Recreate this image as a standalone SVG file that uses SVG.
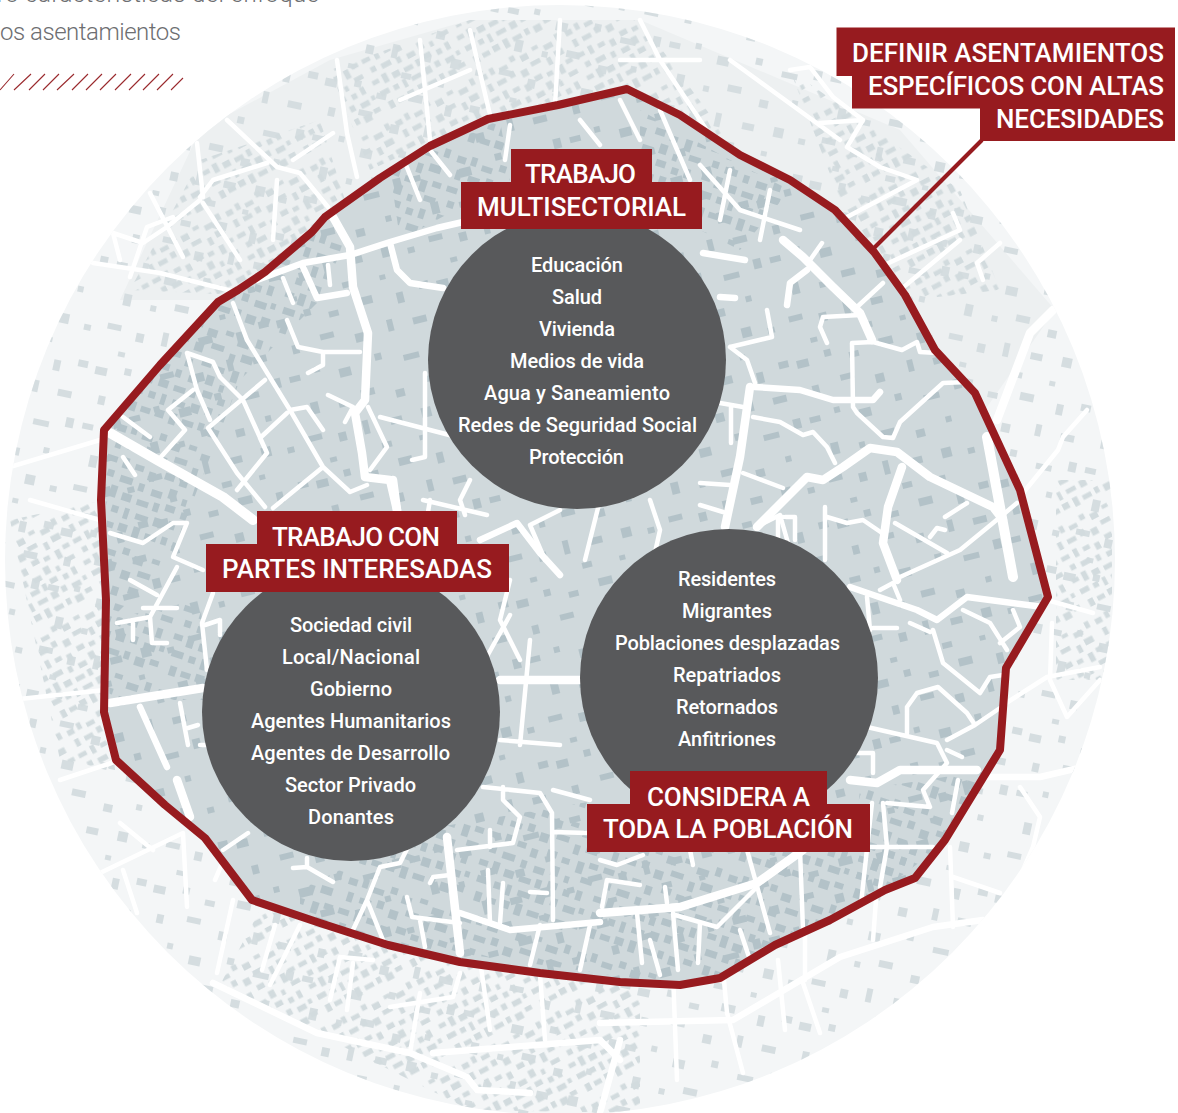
<svg xmlns="http://www.w3.org/2000/svg" width="1178" height="1113" viewBox="0 0 1178 1113">
<style>
text{font-family:Roboto,"Noto Sans",sans-serif;font-weight:500}
.t{font-size:26px;fill:#fff}
.c{font-size:20px;fill:#fff}
.box{fill:#971b1f}
.disc{fill:#58595b}
.r{fill:none;stroke:#fff;stroke-linejoin:round;stroke-linecap:round}
.w3{stroke-width:3.5}.w4{stroke-width:4.5}.w6{stroke-width:6.5}.w8{stroke-width:8.5}.w10{stroke-width:10}
.intro{font-size:24px;fill:#6d6e71;font-weight:300}
</style>
<defs>
<path id="b1" d="M4 6h9v7h-9zM18 3h6v9h-6zM30 8h11v6h-11zM47 2h7v7h-7zM60 7h10v8h-10zM78 4h8v5h-8zM92 9h12v7h-12zM110 3h6v9h-6zM7 20h6v10h-6zM20 22h12v6h-12zM38 19h7v8h-7zM52 24h9v9h-9zM68 20h13v6h-13zM88 25h6v10h-6zM100 22h12v8h-12zM3 38h11v6h-11zM20 36h6v11h-6zM33 39h9v6h-9zM48 42h7v9h-7zM64 38h10v7h-10zM80 41h8v6h-8zM96 40h7v12h-7zM108 38h9v6h-9zM8 52h7v7h-7zM22 54h13v7h-13zM42 56h6v8h-6zM56 58h11v7h-11zM73 52h8v10h-8zM88 58h5v7h-5zM104 54h12v6h-12zM2 68h9v6h-9zM16 66h7v12h-7zM29 70h10v8h-10zM45 72h12v6h-12zM62 70h6v9h-6zM74 68h10v7h-10zM91 71h7v7h-7zM104 68h6v10h-6zM5 84h12v7h-12zM23 85h7v7h-7zM36 84h5v11h-5zM48 86h13v6h-13zM67 84h9v9h-9zM82 83h7v8h-7zM96 86h12v7h-12zM112 84h5v6h-5zM8 100h7v10h-7zM20 102h10v6h-10zM35 100h9v8h-9zM50 99h7v12h-7zM63 102h12v6h-12zM80 100h6v8h-6zM92 102h10v9h-10zM107 100h9v6h-9z"/>
<path id="b2" d="M5 8h12v8h-12zM34 4h7v7h-7zM58 12h10v6h-10zM90 6h14v8h-14zM128 10h7v11h-7zM152 5h10v7h-10zM14 36h7v9h-7zM44 32h14v6h-14zM78 40h9v9h-9zM112 34h6v12h-6zM138 38h14v7h-14zM4 66h11v6h-11zM30 62h6v6h-6zM54 70h12v9h-12zM92 64h7v7h-7zM120 72h16v6h-16zM152 64h8v10h-8zM18 96h8v12h-8zM46 102h6v6h-6zM70 96h14v7h-14zM104 104h9v8h-9zM136 98h6v6h-6zM8 128h14v6h-14zM38 132h8v9h-8zM64 126h6v14h-6zM92 130h12v7h-12zM124 128h10v10h-10zM150 134h7v6h-7zM24 154h7v5h-7zM78 152h10v6h-10zM116 154h6v5h-6z"/>
<pattern id="inA" width="120" height="120" patternUnits="userSpaceOnUse" patternTransform="rotate(18)"><use href="#b1" fill="#b3c2c8"/></pattern>
<pattern id="inB" width="165" height="165" patternUnits="userSpaceOnUse" patternTransform="rotate(-14) translate(20 40)"><use href="#b2" fill="#b3c2c8"/></pattern>
<pattern id="outA" width="120" height="120" patternUnits="userSpaceOnUse" patternTransform="rotate(-28) scale(.8)"><use href="#b1" fill="#d2dbde"/></pattern>
<pattern id="outB" width="165" height="165" patternUnits="userSpaceOnUse" patternTransform="rotate(12)"><use href="#b2" fill="#d5dde0"/></pattern>
<clipPath id="discClip"><circle cx="560" cy="560" r="555"/></clipPath>
<clipPath id="inClip"><path d="M627 89L558 105 488 119 430 146 380 178 325 217 312 232 265 272 238 290 218 302 160 365 104 430 101 500 106 600 104 712 116 760 165 805 205 838 252 900 320 923 388 945 460 962 540 973 620 982 680 985 720 978 775 945 830 920 885 890 915 878 945 840 1000 750 1006 668 1048 597 1020 490 975 393 935 350 905 295 874 252 835 210 790 180 740 155 680 115Z"/></clipPath>
</defs>

<text class="intro" x="-3" y="2" textLength="322" lengthAdjust="spacing">ro características del enfoque</text>
<text class="intro" x="0" y="40" textLength="181" lengthAdjust="spacing">os asentamientos</text>
<path d="M0 90L14 74M14 90L31 74M29 90L45 74M43 90L59 74M57 90L74 74M72 90L88 74M86 90L102 74M100 90L116 74M115 90L131 74M129 90L145 74M143 90L159 74M157 90L173 74M171 90L183 78" fill="none" stroke="#9a2a2e" stroke-width="1.1"/>

<g id="map">
<g clip-path="url(#discClip)">
<rect width="1178" height="1113" fill="#f4f6f7"/>
<path d="M120 300L200 130 330 60 470 20 640 20 900 130 1055 310 880 560 300 300Z" fill="#edf0f1"/>
<rect width="1178" height="1113" fill="url(#outB)"/>
<path d="M130 290L200 160 320 120 345 200 240 295Z" fill="url(#outA)"/>
<path d="M330 70L470 20 640 20 740 155 490 115 370 170Z" fill="url(#outA)"/>
<path d="M790 70L960 190 1000 290 910 300 840 200Z" fill="url(#outA)"/>
<path d="M220 985L470 1110 640 1113 640 990 260 910Z" fill="url(#outA)"/>
<path d="M10 520L105 500 110 720 115 770 60 760Z" fill="url(#outA)"/>
<path d="M1056 480L1112 480 1112 680 1056 680Z" fill="url(#outA)"/>
<g class="outer">
<path class="r w8" d="M1053 310L1030 333 997 420"/>
<path class="r w4" d="M1087 410L1063 437 1058 450 1023 493"/>
<path class="r w6" d="M983 777L1040 777 1100 763"/>
<path class="r w4" d="M1020 787L1040 817 1033 847 1010 900"/>
<path class="r w4" d="M1000 707L1047 677 1100 667M1052 623L1050 680 1067 717 1100 680M1047 600L1093 613"/>
<path class="r w6" d="M600 1023L733 1020 840 957 933 927 983 920"/>
<path class="r w4" d="M673 973L677 1080M723 970L727 1013 743 1073M803 983L820 1033M805 930L805 980M877 887L873 940M950 847L953 927M953 877L1000 893M778 960L785 1030"/>
<path class="r w6" d="M433 1053L600 1040 620 1060M620 1040L600 1113"/>
<path class="r w6" d="M213 983L317 1033 410 1053 467 1077 477 1090 530 1093"/>
<path class="r w4" d="M233 900L217 973M340 957L330 1000M353 963L347 1010M340 957L373 960M420 993L410 1053M390 1007L453 997 460 973M480 960L490 1030M540 975L545 1040"/>
<path class="r w4" d="M100 873L183 833 187 907M120 823L153 850M123 870L137 913M215 880L230 845M275 925L262 970M300 925L270 985"/>
<path class="r w4" d="M197 143L203 197M227 120L277 167 300 173 328 207M267 163L213 180 200 197M150 193L183 257M203 203L240 260M277 180L273 240M337 60L347 133 357 177M293 160L333 133"/>
<path class="r w4" d="M93 263L160 273 240 293M130 277L147 227 173 217M113 233L120 260M113 233L143 243 167 227 200 200"/>
<path class="r w4" d="M470 30L490 115M560 20L555 105M640 20L660 60 720 150M420 40L430 140M400 100L470 70M620 60L700 60"/>
<path class="r w4" d="M790 70L810 67 833 97 863 120M820 123L863 120 847 147 880 167 917 180 847 217M953 213L960 230 880 267M1000 243L977 263 983 280M730 60L840 140M900 290L960 240"/>
<path class="r w4" d="M0 470L100 440M30 500L100 520M10 700L105 690M60 780L120 760"/>
</g>
</g>
<rect x="100" y="85" width="950" height="900" fill="#d0d9dc" clip-path="url(#inClip)"/>
<g clip-path="url(#inClip)">
<rect x="100" y="85" width="950" height="900" fill="url(#inB)"/>
<path d="M104 430L280 240 350 230 320 300 240 380 170 560 110 620Z" fill="url(#inA)"/>
<path d="M105 620L200 600 210 700 110 700Z" fill="url(#inA)"/>
<path d="M300 890L420 830 600 800 800 850 950 840 800 950 680 985 300 930Z" fill="url(#inA)"/>
<path d="M640 110L730 160 790 190 740 250 640 200Z" fill="url(#inA)"/>
<path d="M390 170L500 120 510 180 400 240Z" fill="url(#inA)"/>
<path d="M860 790L990 770 930 860 850 880Z" fill="url(#inA)"/>
<g id="roads">
<path class="r w6" d="M257 280L303 263 350 255 390 242 437 228 463 222"/>
<path class="r w8" d="M333 217L350 247 353 287 368 333 365 400 355 413 362 453 365 477 390 480 397 510"/>
<path class="r w10" d="M110 433L157 460 223 497 253 520"/>
<path class="r w4" d="M233 303L247 340 290 410 323 467 350 492 367 485M187 353L213 362 220 377 243 400 267 453 237 490M187 353L197 390 210 420M193 390L168 410 185 430 160 458M265 380L208 428 237 473 265 507M287 413L260 438 267 453M290 410L307 407 323 430M323 467L273 508M287 320L298 347 323 352 360 352M323 352L323 365 308 373M283 278L293 303"/>
<path class="r w6" d="M303 267L317 298 347 293M390 243L397 270 410 283 443 288"/>
<path class="r w4" d="M328 265L330 285M368 407L387 447 370 470M380 417L457 437M425 373L425 457 412 460M328 395L353 407 345 422M123 417L150 437M123 457L135 475"/>
<path class="r w4" d="M110 533L143 543 173 523 187 523 173 557 203 570M177 567L150 617 117 623M130 580L157 595M133 623L133 640M150 617L152 643 167 643M143 608L177 608"/>
<path class="r w8" d="M110 703L203 688"/>
<path class="r w6" d="M140 707L167 767"/>
<path class="r w4" d="M180 703L188 745M188 728L198 725M213 593L202 623 207 670M205 625L220 620 220 635"/>
<path class="r w4" d="M423 500L487 515M430 500L425 530M465 515L460 500 470 480"/>
<path class="r w8" d="M393 480L397 510 400 545 380 580"/>
<path class="r w6" d="M480 540L517 523 540 553 560 575"/>
<path class="r w4" d="M560 510L530 525 545 560M600 500L585 560M510 580L500 620 520 660M640 620L660 530 650 500"/>
<path class="r w8" d="M500 680L580 680"/>
<path class="r w4" d="M500 740L560 745M530 640L520 745M200 745L230 745M510 615L485 660M760 525L780 515 790 550"/>
<path class="r w8" d="M803 257L833 287 860 313 872 340M783 240L803 257"/>
<path class="r w4" d="M808 263L822 243M857 307L883 283"/>
<path class="r w6" d="M787 305L790 283 807 270"/>
<path class="r w4" d="M823 317L860 315M823 317L820 327 827 343M852 343L853 407 857 413 883 437 893 438 900 422 943 383 967 382M852 343L873 342 902 350 917 342 920 352 937 353M767 310L772 337 730 347M730 347L747 360 755 383"/>
<path class="r w6" d="M755 387L800 390 833 400 873 400 880 392M703 253L745 260M720 297L735 298"/>
<path class="r w8" d="M750 387L740 457 725 527"/>
<path class="r w4" d="M720 403L743 407M731 405L731 443M753 417L780 422 803 435 813 432 827 447 835 463"/>
<path class="r w8" d="M757 527L807 477 823 480 843 467 870 448 897 452 930 477 993 507 1003 520"/>
<path class="r w8" d="M902 467L888 507 883 543 897 580"/>
<path class="r w4" d="M825 507L825 560M827 517L847 523 863 520 882 533M895 523L947 553M945 517L967 503M930 537L937 528 945 530M900 577L960 550 993 523 1017 503M743 473L783 488M700 483L730 485M700 505L723 512"/>
<path class="r w10" d="M987 437L1000 507 1013 577"/>
<path class="r w4" d="M778 517L795 517 795 540M778 517L778 540"/>
<path class="r w6" d="M850 587L917 610 937 620 967 597 1043 607"/>
<path class="r w4" d="M867 597L870 630M933 630L943 663 980 693 990 677 1003 675M910 623L930 632M873 628L897 628M963 610L990 623 1007 650M1013 610L1020 627 1000 643M880 590L893 583 900 600"/>
<path class="r w4" d="M867 727L937 743 947 763 923 790 930 807 887 803M907 733L907 707 917 693 938 687 967 713 975 725M947 740L975 725 1000 708M947 750L962 757"/>
<path class="r w8" d="M850 780L877 783 900 770 977 770"/>
<path class="r w4" d="M857 753L873 753 873 773M958 780L952 813M872 803L860 913M883 803L887 847 880 887M870 847L933 847M800 850L803 930M747 850L770 933"/>
<path class="r w8" d="M803 850L757 883 680 907 600 913"/>
<path class="r w4" d="M757 887L717 927 675 915M673 913L678 970M637 913L642 963M700 923L698 963M665 887L667 903M607 880L640 885M607 880L602 907M690 850L693 865M600 860L617 865 643 855"/>
<path class="r w8" d="M447 837L460 953"/>
<path class="r w4" d="M457 850L513 843 520 817 503 800 503 787M490 830L490 847M483 787L540 793 552 813 553 920M553 790L590 800M553 832L587 833M488 870L490 923M503 883L500 923M430 883L433 877 450 875M530 892L547 893M407 897L412 917 460 923M420 920L425 947M353 930L367 900 383 940M367 900L380 867 400 863 413 837M293 868L307 867 333 882M307 858L307 867M223 850L248 833"/>
<path class="r w6" d="M460 913L510 930 600 922"/>
<path class="r w8" d="M177 780L190 817"/>
<path class="r w4" d="M650 940L660 975M540 925L530 965M590 925L580 970M740 930L750 960"/>
<path class="r w4" d="M400 150L420 200M510 125L505 160M430 150L450 175M620 100L640 140M660 110L690 180M700 165L740 210 800 230M730 170L720 220M770 190L760 240M580 120L600 145"/>
</g>
</g>
<path fill="none" stroke="#971b1f" stroke-width="8" stroke-linejoin="round" d="M627 89L558 105 488 119 430 146 380 178 325 217 312 232 265 272 238 290 218 302 160 365 104 430 101 500 106 600 104 712 116 760 165 805 205 838 252 900 320 923 388 945 460 962 540 973 620 982 680 985 720 978 775 945 830 920 885 890 915 878 945 840 1000 750 1006 668 1048 597 1020 490 975 393 935 350 905 295 874 252 835 210 790 180 740 155 680 115Z"/>
</g>

<g id="connectors">
<path d="M982 140L872 250" fill="none" stroke="#971b1f" stroke-width="4"/>
</g>

<g id="node-definir">
<path class="box" d="M836.500 27.500H1175V141H980V108.500H852V76H836.500Z"/>
<text class="t" x="852" y="62" textLength="312" lengthAdjust="spacing">DEFINIR ASENTAMIENTOS</text>
<text class="t" x="868" y="95" textLength="296" lengthAdjust="spacing">ESPECÍFICOS CON ALTAS</text>
<text class="t" x="996" y="128" textLength="168" lengthAdjust="spacing">NECESIDADES</text>
</g>

<g id="node-multisectorial">
<circle class="disc" cx="577" cy="360" r="149"/>
<path class="box" d="M511 149H652V182H702V229H461V182H511Z"/>
<text class="t" x="525" y="183" textLength="111" lengthAdjust="spacing">TRABAJO</text>
<text class="t" x="477" y="216" textLength="209" lengthAdjust="spacing">MULTISECTORIAL</text>
<text class="c" x="531" y="272" textLength="92" lengthAdjust="spacing">Educación</text>
<text class="c" x="552" y="304" textLength="50" lengthAdjust="spacing">Salud</text>
<text class="c" x="539" y="336" textLength="76" lengthAdjust="spacing">Vivienda</text>
<text class="c" x="510" y="368" textLength="134" lengthAdjust="spacing">Medios de vida</text>
<text class="c" x="484" y="400" textLength="186" lengthAdjust="spacing">Agua y Saneamiento</text>
<text class="c" x="458" y="432" textLength="239" lengthAdjust="spacing">Redes de Seguridad Social</text>
<text class="c" x="529" y="464" textLength="95" lengthAdjust="spacing">Protección</text>
</g>

<g id="node-partes">
<circle class="disc" cx="351" cy="712" r="149"/>
<path class="box" d="M257 511H457V544H509V592H206V544H257Z"/>
<text class="t" x="272" y="546" textLength="168" lengthAdjust="spacing">TRABAJO CON</text>
<text class="t" x="222" y="578" textLength="270" lengthAdjust="spacing">PARTES INTERESADAS</text>
<text class="c" x="290" y="632" textLength="122" lengthAdjust="spacing">Sociedad civil</text>
<text class="c" x="282" y="664" textLength="138" lengthAdjust="spacing">Local/Nacional</text>
<text class="c" x="310" y="696" textLength="82" lengthAdjust="spacing">Gobierno</text>
<text class="c" x="251" y="728" textLength="200" lengthAdjust="spacing">Agentes Humanitarios</text>
<text class="c" x="251" y="760" textLength="199" lengthAdjust="spacing">Agentes de Desarrollo</text>
<text class="c" x="285" y="792" textLength="131" lengthAdjust="spacing">Sector Privado</text>
<text class="c" x="308" y="824" textLength="86" lengthAdjust="spacing">Donantes</text>
</g>

<g id="node-poblacion">
<circle class="disc" cx="729" cy="678" r="149"/>
<path class="box" d="M630 771H827V804H870V852H587V804H630Z"/>
<text class="t" x="647" y="806" textLength="163" lengthAdjust="spacing">CONSIDERA A</text>
<text class="t" x="603" y="838" textLength="250" lengthAdjust="spacing">TODA LA POBLACIÓN</text>
<text class="c" x="678" y="586" textLength="98" lengthAdjust="spacing">Residentes</text>
<text class="c" x="682" y="618" textLength="90" lengthAdjust="spacing">Migrantes</text>
<text class="c" x="615" y="650" textLength="225" lengthAdjust="spacing">Poblaciones desplazadas</text>
<text class="c" x="673" y="682" textLength="108" lengthAdjust="spacing">Repatriados</text>
<text class="c" x="676" y="714" textLength="102" lengthAdjust="spacing">Retornados</text>
<text class="c" x="678" y="746" textLength="98" lengthAdjust="spacing">Anfitriones</text>
</g>
</svg>
